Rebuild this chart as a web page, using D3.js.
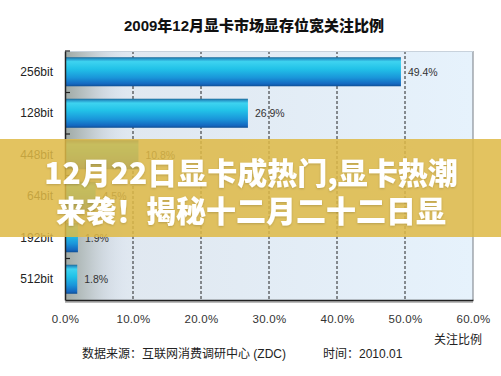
<!DOCTYPE html>
<html><head><meta charset="utf-8">
<script src="https://cdnjs.cloudflare.com/ajax/libs/d3/7.8.5/d3.min.js"></script>
<style>
html,body{margin:0;padding:0;background:#fff;}
svg{display:block;}
</style></head>
<body>
<script>
const categories = ["256bit","128bit","448bit","64bit","192bit","512bit"];
const values = [49.4, 26.9, 10.8, 4.5, 1.9, 1.8];
const xTicks = [0,10,20,30,40,50,60];
const title = "2009年12月显卡市场显存位宽关注比例";
const axisTitle = "关注比例";
const sourceText = "数据来源：互联网消费调研中心 (ZDC)";
const dateText = "时间：2010.01";
const bannerLines = ["12月22日显卡成热门,显卡热潮","来袭！揭秘十二月二十二日显"];

const W=501,H=376;
const m={l:65,r:28,t:51,b:76};
const svg=d3.select("body").append("svg").attr("width",W).attr("height",H);
const defs=svg.append("defs");
const x=d3.scaleLinear().domain([0,60]).range([m.l,W-m.r]);
const y=d3.scaleBand().domain(categories).range([m.t,H-m.b]).paddingInner(0.3).paddingOuter(0.15);
const cjk='"Liberation Sans","Noto Sans CJK SC",sans-serif';

// plot background
const bg=defs.append("linearGradient").attr("id","bg").attr("x1",0).attr("x2",1).attr("y1",0).attr("y2",0);
bg.append("stop").attr("offset","0%").attr("stop-color","#dfe6ee");
bg.append("stop").attr("offset","100%").attr("stop-color","#e6f2fc");
svg.append("rect").attr("x",m.l).attr("y",m.t).attr("width",x(60)-m.l).attr("height",H-m.b-m.t).attr("fill","url(#bg)");
const wall=defs.append("linearGradient").attr("id","wall").attr("x1",0).attr("x2",1).attr("y1",0).attr("y2",0);
wall.append("stop").attr("offset","0%").attr("stop-color","#9fa9a4");
wall.append("stop").attr("offset","40%").attr("stop-color","#c3ccd0");
wall.append("stop").attr("offset","100%").attr("stop-color","#dde6f5").attr("stop-opacity",0);
svg.append("rect").attr("x",m.l).attr("y",m.t).attr("width",x(10)-m.l).attr("height",H-m.b-m.t).attr("fill","url(#wall)");

// gridlines
svg.append("g").selectAll("line").data(xTicks.filter(d=>d>0&&d<60)).join("line")
  .attr("x1",d=>x(d)).attr("x2",d=>x(d)).attr("y1",m.t).attr("y2",H-m.b)
  .attr("stroke","#222").attr("stroke-width",1).attr("stroke-dasharray","3,2");
// right & top border
svg.append("line").attr("x1",x(60)).attr("x2",x(60)).attr("y1",m.t).attr("y2",H-m.b).attr("stroke","#8a9098").attr("stroke-width",1.2);
svg.append("line").attr("x1",m.l).attr("x2",x(60)).attr("y1",m.t+0.5).attr("y2",m.t+0.5).attr("stroke","#c8d2dc");

// bars
const bg2=defs.append("linearGradient").attr("id","bar").attr("x1",0).attr("x2",0).attr("y1",0).attr("y2",1);
[["0%","#1d6a9a"],["7%","#2a9fd0"],["15%","#3ed3f0"],["40%","#22c2e8"],["70%","#1a96da"],["92%","#1468c0"],["100%","#0e4f94"]]
 .forEach(s=>bg2.append("stop").attr("offset",s[0]).attr("stop-color",s[1]));
svg.append("g").selectAll("rect").data(categories).join("rect")
  .attr("x",x(0)).attr("y",d=>y(d)).attr("width",(d,i)=>x(values[i])-x(0)).attr("height",y.bandwidth())
  .attr("fill","url(#bar)");
// value labels
svg.append("g").selectAll("text").data(categories).join("text")
  .attr("x",(d,i)=>x(values[i])+7).attr("y",d=>y(d)+y.bandwidth()/2)
  .attr("dominant-baseline","central").attr("font-family",cjk).attr("font-size","10.5px").attr("fill","#333")
  .text((d,i)=>values[i].toFixed(1)+"%");

// y axis
const yAxis=svg.append("g").attr("transform",`translate(${m.l},0)`)
  .call(d3.axisLeft(y).tickSize(0).tickPadding(12));
yAxis.select(".domain").attr("stroke","#222").attr("stroke-width",1.5);
yAxis.selectAll("text").attr("font-family",cjk).attr("font-size","12px").attr("fill","#222");
// inward category boundary ticks
const bounds=categories.map(d=>y(d)-y.step()*y.paddingInner()/2);
svg.append("g").selectAll("line").data(bounds).join("line")
  .attr("x1",m.l).attr("x2",m.l+5).attr("y1",d=>d).attr("y2",d=>d).attr("stroke","#222").attr("stroke-width",1.2);

// x axis
svg.append("line").attr("x1",m.l).attr("x2",x(60)).attr("y1",H-m.b+2).attr("y2",H-m.b+2).attr("stroke","#bbb").attr("stroke-width",2);
const xAxis=svg.append("g").attr("transform",`translate(0,${H-m.b})`)
  .call(d3.axisBottom(x).tickValues(xTicks).tickSize(0).tickPadding(15).tickFormat(d=>d.toFixed(1)+"%"));
xAxis.select(".domain").attr("stroke","#222").attr("stroke-width",1.5);
xAxis.selectAll("text").attr("font-family",cjk).attr("font-size","11.5px").attr("fill","#333").attr("letter-spacing","0.3px");

// titles
svg.append("text").attr("x",254).attr("y",25).attr("text-anchor","middle").attr("dominant-baseline","central")
  .attr("font-family",cjk).attr("font-weight","900").attr("font-size","15px").attr("fill","#111").text(title);
svg.append("text").attr("x",458).attr("y",340).attr("text-anchor","middle").attr("dominant-baseline","central")
  .attr("font-family",cjk).attr("font-size","12px").attr("fill","#222").text(axisTitle);
svg.append("text").attr("x",82).attr("y",354).attr("dominant-baseline","central")
  .attr("font-family",cjk).attr("font-size","12px").attr("fill","#222").text(sourceText);
svg.append("text").attr("x",323).attr("y",354).attr("dominant-baseline","central")
  .attr("font-family",cjk).attr("font-size","12px").attr("fill","#222").text(dateText);

// banner overlay
svg.append("rect").attr("x",0).attr("y",139).attr("width",W).attr("height",98).attr("fill","rgb(222,185,70)").attr("opacity",0.86);
const f=defs.append("filter").attr("id","sh").attr("x","-5%").attr("y","-20%").attr("width","110%").attr("height","140%");
f.append("feDropShadow").attr("dx",0).attr("dy",1).attr("stdDeviation",1).attr("flood-color","#000").attr("flood-opacity",0.18);
svg.append("g").selectAll("text").data(bannerLines).join("text")
  .attr("x",251).attr("y",(d,i)=>171+i*38).attr("text-anchor","middle").attr("dominant-baseline","central")
  .attr("font-family",'"Noto Sans CJK SC",sans-serif').attr("font-weight","900").attr("font-size","30px")
  .attr("fill","#fff").attr("filter","url(#sh)").text(d=>d);
</script>
</body></html>
